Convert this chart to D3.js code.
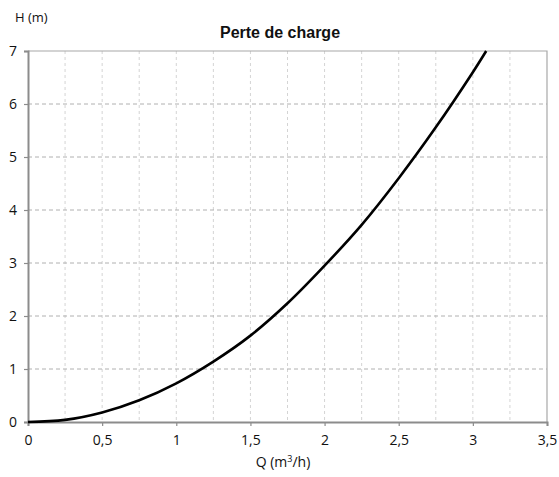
<!DOCTYPE html>
<html>
<head>
<meta charset="utf-8">
<script src="https://cdn.jsdelivr.net/npm/d3@7"></script>
<style>
  body { margin: 0; background: #fff; }
  text { fill: #111; }
</style>
</head>
<body>
<svg id="chart"></svg>
<script>
// values
const flow = [0, 0.25, 0.5, 0.75, 1, 1.25, 1.5, 1.75, 2, 2.25, 2.5, 2.75, 3, 3.09];
const head = [0, 0.04, 0.18, 0.41, 0.73, 1.14, 1.63, 2.24, 2.95, 3.72, 4.6, 5.56, 6.6, 7.0];
const xTicks = [0, 0.5, 1, 1.5, 2, 2.5, 3, 3.5];
const xGrid = [0.25, 0.5, 0.75, 1, 1.25, 1.5, 1.75, 2, 2.25, 2.5, 2.75, 3, 3.25];
const yTicks = [0, 1, 2, 3, 4, 5, 6, 7];

const W = 559, H = 477;
const margin = { top: 51, right: 12, bottom: 55, left: 28 };

const svg = d3.select('#chart')
  .attr('width', W)
  .attr('height', H);

const x = d3.scaleLinear().domain([0, 3.5]).range([margin.left, W - margin.right]);
const y = d3.scaleLinear().domain([0, 7]).range([H - margin.bottom, margin.top]);

const fmt = d => String(d).replace('.', ',');
const tickFont = "'Open Sans', 'Noto Sans', sans-serif";

// vertical grid
svg.append('g').selectAll('line')
  .data(xGrid)
  .enter().append('line')
  .attr('x1', d => x(d)).attr('x2', d => x(d))
  .attr('y1', y(7)).attr('y2', y(0))
  .attr('stroke', '#d4d4d4')
  .attr('stroke-width', 1)
  .attr('stroke-dasharray', '3,3');

// horizontal grid
svg.append('g').selectAll('line')
  .data(yTicks.slice(1, -1))
  .enter().append('line')
  .attr('x1', x(0)).attr('x2', x(3.5))
  .attr('y1', d => y(d)).attr('y2', d => y(d))
  .attr('stroke', '#b0b0b0')
  .attr('stroke-width', 1)
  .attr('stroke-dasharray', '4,3');

// frame top + right
svg.append('path')
  .attr('d', `M${x(0)},${y(7)}H${x(3.5)}V${y(0)}`)
  .attr('fill', 'none')
  .attr('stroke', '#a8a8a8')
  .attr('stroke-width', 1.2);

// axes
const xAxis = svg.append('g')
  .attr('transform', `translate(0,${y(0)})`)
  .call(d3.axisBottom(x).tickValues(xTicks).tickFormat(fmt).tickSize(4).tickPadding(9));
const yAxis = svg.append('g')
  .attr('transform', `translate(${x(0)},0)`)
  .call(d3.axisLeft(y).tickValues(yTicks).tickFormat(fmt).tickSize(4).tickPadding(7));

[xAxis, yAxis].forEach(a => {
  a.select('.domain').attr('stroke', '#8c8c8c').attr('stroke-width', 2);
  a.selectAll('.tick line').attr('stroke', '#8c8c8c').attr('stroke-width', 1.2);
  a.selectAll('.tick text')
    .attr('fill', '#111')
    .style('font-family', tickFont)
    .style('font-size', '14px');
});

// curve
const pts = flow.map((q, i) => [q, head[i]]);
svg.append('path')
  .datum(pts)
  .attr('fill', 'none')
  .attr('stroke', '#000')
  .attr('stroke-width', 2.6)
  .attr('d', d3.line()
    .x(d => x(d[0]))
    .y(d => y(d[1]))
    .curve(d3.curveCatmullRom));

// title & labels
svg.append('text')
  .attr('x', 280).attr('y', 38)
  .attr('text-anchor', 'middle')
  .style('font-family', "'Liberation Sans', Arial, sans-serif")
  .style('font-weight', 'bold')
  .style('font-size', '16px')
  .text('Perte de charge');

svg.append('text')
  .attr('x', 15).attr('y', 22)
  .style('font-family', tickFont)
  .style('font-size', '13px')
  .text('H (m)');

const ql = svg.append('text')
  .attr('x', 283).attr('y', 467)
  .attr('text-anchor', 'middle')
  .style('font-family', tickFont)
  .style('font-size', '14px');
ql.append('tspan').text('Q (m');
ql.append('tspan').attr('dy', -5).style('font-size', '9px').text('3');
ql.append('tspan').attr('dy', 5).text('/h)');
</script>
</body>
</html>
